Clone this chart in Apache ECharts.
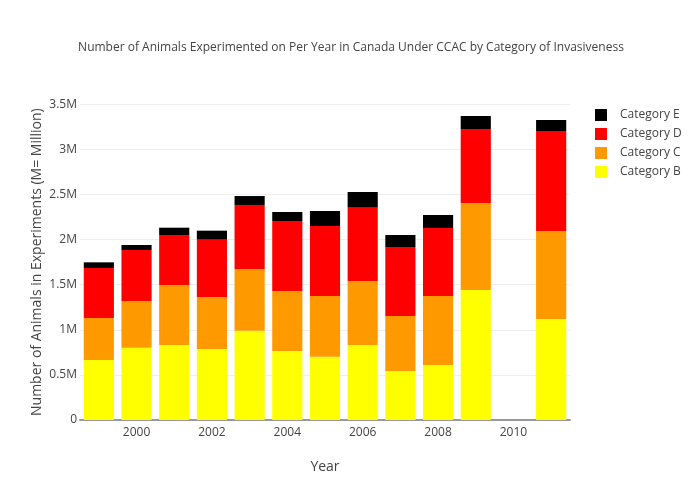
<!DOCTYPE html>
<html>
<head>
<meta charset="utf-8">
<script src="https://cdn.jsdelivr.net/npm/echarts@6/dist/echarts.min.js"></script>
<style>html,body{margin:0;padding:0;background:#fff}#c{width:700px;height:500px}</style>
</head>
<body>
<div id="c"></div>
<script>
const years = ['1999','2000','2001','2002','2003','2004','2005','2006','2007','2008','2009','2010','2011'];
const categoryB = [665000, 802000, 831000, 787000, 990000, 765000, 702000, 831000, 543000, 610000, 1441000, null, 1120000];
const categoryC = [466000, 517000, 666000, 577000, 684000, 665000, 673000, 710000, 610000, 765000, 965000, null, 975000];
const categoryD = [554000, 566000, 547000, 636000, 710000, 776000, 776000, 813000, 765000, 754000, 820000, null, 1109000];
const categoryE = [63000, 55000, 88000, 99000, 99000, 100000, 166000, 174000, 133000, 144000, 144000, null, 122000];
const yTicks = [0, 500000, 1000000, 1500000, 2000000, 2500000, 3000000, 3500000];

const font = '"Open Sans", verdana, arial, sans-serif';
const chart = echarts.init(document.getElementById('c'), null, {renderer: 'canvas'});
function mk(name, data, color) {
  return {name, type: 'bar', stack: 'total', data, barCategoryGap: '20%',
    itemStyle: {color}, emphasis: {disabled: true}};
}
chart.setOption({
  animation: false,
  backgroundColor: '#fff',
  textStyle: {fontFamily: font},
  title: {
    text: 'Number of Animals Experimented on Per Year in Canada Under CCAC by Category of Invasiveness',
    left: 346, textAlign: 'center', top: 37,
    textStyle: {fontFamily: font, fontSize: 12, fontWeight: 'normal', color: '#444'}
  },
  legend: {
    data: ['Category E', 'Category D', 'Category C', 'Category B'],
    orient: 'vertical', left: 590, top: 104, itemWidth: 12, itemHeight: 12, itemGap: 7,
    icon: 'rect',
    textStyle: {fontFamily: font, fontSize: 12, color: '#444', padding: [0, 0, 0, 8]}
  },
  grid: {left: 80, right: 130, top: 104.3, bottom: 80, containLabel: false},
  xAxis: {
    type: 'category', data: years,
    name: 'Year', nameLocation: 'middle', nameGap: 40, nameMoveOverlap: false,
    nameTextStyle: {fontFamily: font, fontSize: 14, color: '#444'},
    axisLine: {show: true, lineStyle: {color: '#999', width: 2}},
    axisTick: {show: false},
    axisLabel: {
      interval: (i, v) => Number(v) % 2 === 0,
      fontFamily: font, fontSize: 12, color: '#444', margin: 7
    }
  },
  yAxis: {
    type: 'value', min: 0, max: 3500000, interval: 500000,
    name: 'Number of Animals in Experiments (M= Million)', nameLocation: 'middle', nameGap: 36,
    nameMoveOverlap: false,
    nameTextStyle: {fontFamily: font, fontSize: 14, color: '#444'},
    axisLine: {show: false}, axisTick: {show: false},
    splitLine: {lineStyle: {color: '#eee', width: 1}},
    axisLabel: {
      fontFamily: font, fontSize: 12, color: '#444', margin: 3,
      formatter: v => v === 0 ? '0' : (v / 1e6) + 'M'
    }
  },
  series: [
    mk('Category B', categoryB, '#ffff00'),
    mk('Category C', categoryC, '#ff9900'),
    mk('Category D', categoryD, '#ff0000'),
    mk('Category E', categoryE, '#000000')
  ]
});
</script>
</body>
</html>
